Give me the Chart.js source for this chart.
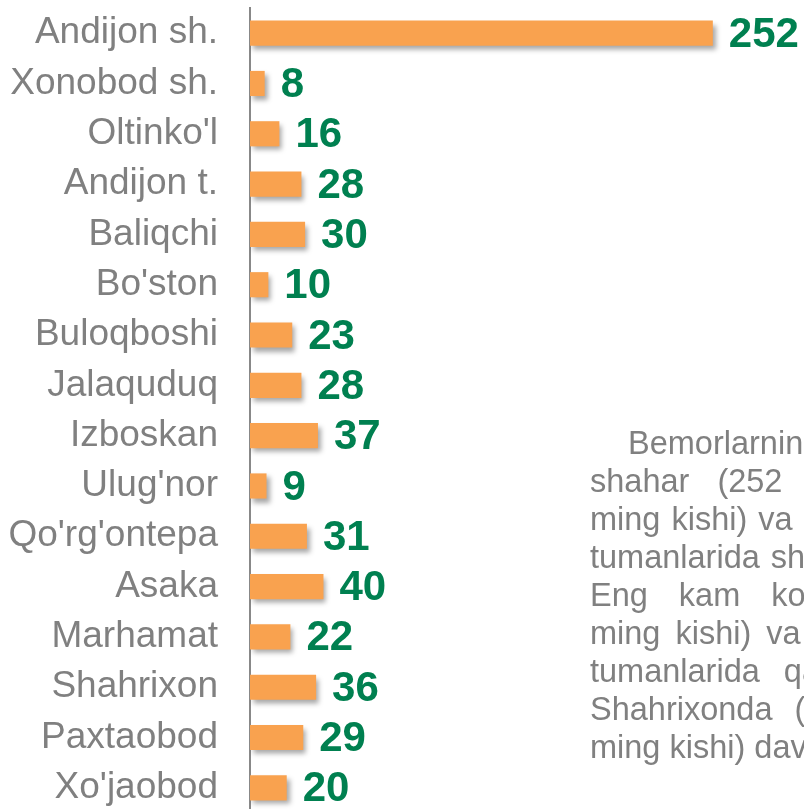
<!DOCTYPE html>
<html>
<head>
<meta charset="utf-8">
<script src="https://cdn.jsdelivr.net/npm/chart.js@4.4.1/dist/chart.umd.min.js"></script>
<style>
    html, body { margin: 0; padding: 0; background: #fff; overflow: hidden; width: 804px; height: 809px; }
    #wrap { position: absolute; left: 0; top: 0; width: 804px; height: 813px; }
    #note { position: absolute; left: 590px; top: 424px; font: 32.5px "Liberation Sans", Arial, sans-serif;
            color: #808080; line-height: 38px; white-space: nowrap; }
</style>
</head>
<body>
<div id="wrap"><canvas id="chart" width="804" height="813"></canvas></div>
<div id="note"></div>
<script>
const districts = ['Andijon sh.', 'Xonobod sh.', "Oltinko'l", 'Andijon t.', 'Baliqchi', "Bo'ston",
    'Buloqboshi', 'Jalaquduq', 'Izboskan', "Ulug'nor", "Qo'rg'ontepa", 'Asaka', 'Marhamat',
    'Shahrixon', 'Paxtaobod', "Xo'jaobod"];
const patients = [252, 8, 16, 28, 30, 10, 23, 28, 37, 9, 31, 40, 22, 36, 29, 20];

// matn bloki (o'ng tomonda, kesilgan): [matn, so'z oralig'i, xat boshi]
const noteLines = [
    ["Bemorlarning eng ko'p qismi Andijon", 0, 38],
    ['shahar (252 ming kishi), Izboskan', 19, 0],
    ['ming kishi) va', 2, 0],
    ['tumanlarida shu kasallik qayd etilgan.', 2, 0],
    ["Eng kam ko'rsatkich Xonobod (8", 22, 0],
    ["ming kishi) va Ulug'nor (9 ming kishi)", 6, 0],
    ['tumanlarida qayd etilgan.', 15, 0],
    ['Shahrixonda (36', 13, 0],
    ['ming kishi) davom etmoqda.', 0, 0]
];

const note = document.getElementById('note');
noteLines.forEach(([text, spacing, indent]) => {
    const div = document.createElement('div');
    div.textContent = text;
    div.style.wordSpacing = spacing + 'px';
    div.style.paddingLeft = indent + 'px';
    note.appendChild(div);
});

const FONT = '"Liberation Sans", Arial, sans-serif';

const barShadow = {
    id: 'barShadow',
    beforeDatasetsDraw(chart) {
        const c = chart.ctx;
        c.save();
        c.shadowColor = 'rgba(0, 0, 0, 0.35)';
        c.shadowBlur = 5;
        c.shadowOffsetX = 3;
        c.shadowOffsetY = 4;
    },
    afterDatasetsDraw(chart) {
        chart.ctx.restore();
    }
};

const valueLabels = {
    id: 'valueLabels',
    afterDatasetsDraw(chart) {
        const ctx = chart.ctx;
        const meta = chart.getDatasetMeta(0);
        ctx.save();
        ctx.font = 'bold 42px ' + FONT;
        ctx.fillStyle = '#008050';
        ctx.textBaseline = 'middle';
        meta.data.forEach((bar, i) => {
            ctx.fillText(String(patients[i]), bar.x + 16, bar.y + 2);
        });
        ctx.restore();
    }
};

const ctx = document.getElementById('chart').getContext('2d');
new Chart(ctx, {
    type: 'bar',
    data: {
        labels: districts,
        datasets: [{
            label: 'Bemorlar',
            data: patients,
            backgroundColor: '#F9A24F',
            borderWidth: 0,
            barPercentage: 0.5,
            categoryPercentage: 1
        }]
    },
    options: {
        indexAxis: 'y',
        responsive: false,
        animation: false,
        layout: { padding: { top: 8, right: 3, left: 0, bottom: 0 } },
        plugins: {
            legend: { display: false },
            tooltip: { enabled: false }
        },
        scales: {
            x: { display: false, min: 0, max: 300 },
            y: {
                afterFit(scale) {
                    scale.width = 250;
                    scale.paddingTop = 0;
                    scale.paddingBottom = 0;
                },
                grid: { display: false, drawTicks: false },
                border: { display: true, color: '#888888', width: 2 },
                ticks: {
                    padding: 32,
                    color: '#808080',
                    font: { family: FONT, size: 37 }
                }
            }
        }
    },
    plugins: [barShadow, valueLabels]
});
</script>
</body>
</html>
